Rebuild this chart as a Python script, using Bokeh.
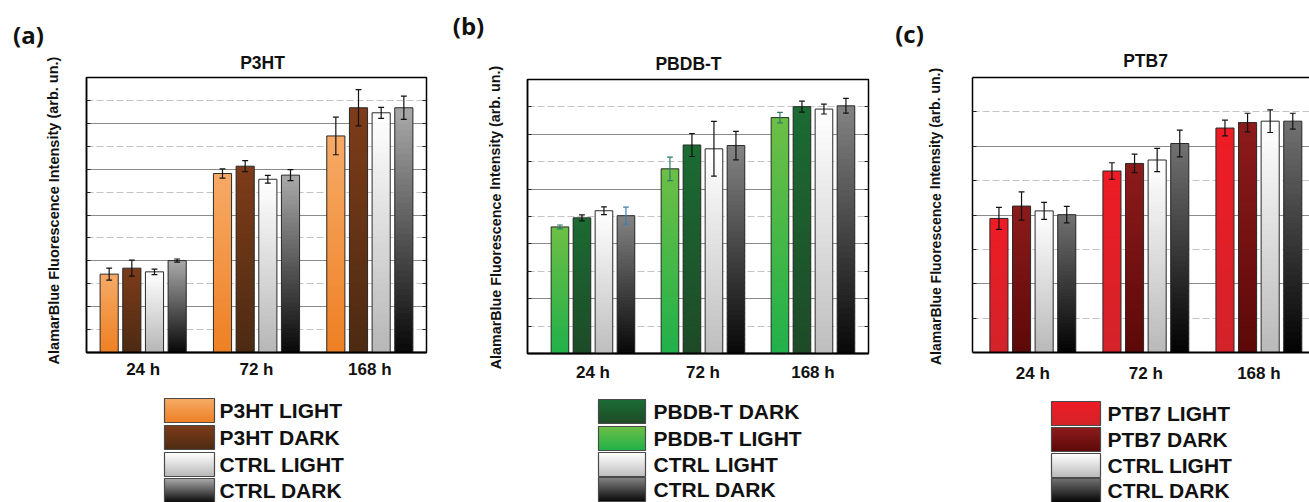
import numpy as np
from bokeh.plotting import figure
from bokeh.models import Range1d, FixedTicker, LinearAxis, Grid, ColumnDataSource
from bokeh.layouts import row, column
from bokeh.embed import file_html
from bokeh.resources import INLINE
from bokeh.core.properties import value

# ---------------- data ----------------
times = ["24 h", "72 h", "168 h"]
y_label = "AlamarBlue Fluorescence Intensity (arb. un.)"

p3ht_series = ["P3HT LIGHT", "P3HT DARK", "CTRL LIGHT", "CTRL DARK"]
p3ht_values = [[3.42, 7.81, 9.45], [3.68, 8.13, 10.68], [3.52, 7.56, 10.46], [4.01, 7.74, 10.68]]
p3ht_errors = [[0.26, 0.20, 0.82], [0.35, 0.24, 0.79], [0.12, 0.17, 0.24], [0.07, 0.24, 0.51]]
p3ht_legend = ["P3HT LIGHT", "P3HT DARK", "CTRL LIGHT", "CTRL DARK"]

pbdb_series = ["PBDB-T LIGHT", "PBDB-T DARK", "CTRL LIGHT", "CTRL DARK"]
pbdb_values = [[4.62, 6.74, 8.61], [4.95, 7.61, 9.01], [5.21, 7.47, 8.92], [5.03, 7.59, 9.04]]
pbdb_errors = [[0.07, 0.43, 0.19], [0.11, 0.42, 0.20], [0.14, 1.00, 0.18], [0.31, 0.52, 0.27]]
pbdb_legend = ["PBDB-T DARK", "PBDB-T LIGHT", "CTRL LIGHT", "CTRL DARK"]

ptb7_series = ["PTB7 LIGHT", "PTB7 DARK", "CTRL LIGHT", "CTRL DARK"]
ptb7_values = [[3.90, 5.28, 6.53], [4.26, 5.50, 6.69], [4.12, 5.60, 6.73], [4.01, 6.08, 6.73]]
ptb7_errors = [[0.32, 0.24, 0.23], [0.41, 0.27, 0.27], [0.25, 0.34, 0.33], [0.24, 0.39, 0.23]]
ptb7_legend = ["PTB7 LIGHT", "PTB7 DARK", "CTRL LIGHT", "CTRL DARK"]

# ---------------- styles ----------------
FONT = "Liberation Sans"
OFFSETS = [-0.3, -0.1, 0.1, 0.3]
BW = 0.16
NSEG = 40
CAP = 0.026
STRIP = 76
HEAD = 72
TOTAL_H = 390
LEG_H = 112

colors_a = {"P3HT LIGHT": ("#f6aa66", "#ee7f22"), "P3HT DARK": ("#7d3c19", "#4b2a12"),
            "CTRL LIGHT": ("#ffffff", "#b5b5b5"), "CTRL DARK": ("#a8a8a8", "#050505")}
colors_b = {"PBDB-T LIGHT": ("#6cbf45", "#1fb04a"), "PBDB-T DARK": ("#1b6b33", "#1d4a27"),
            "CTRL LIGHT": ("#ffffff", "#bdbdbd"), "CTRL DARK": ("#828282", "#050505")}
colors_c = {"PTB7 LIGHT": ("#ee1c25", "#d2232a"), "PTB7 DARK": ("#8c1b1b", "#5c0808"),
            "CTRL LIGHT": ("#ffffff", "#b8b8b8"), "CTRL DARK": ("#707070", "#000000")}


def hex2rgb(h):
    h = h.lstrip("#")
    return tuple(int(h[i:i + 2], 16) for i in (0, 2, 4))


def mix(c_bot, c_top, t):
    a = hex2rgb(c_bot)
    b = hex2rgb(c_top)
    return "#%02x%02x%02x" % tuple(int(round(a[i] + (b[i] - a[i]) * t)) for i in range(3))


def blank_fig(w, h, flip=True):
    q = figure(width=w, height=h, x_range=Range1d(0, w), y_range=Range1d(h, 0) if flip else Range1d(0, h),
               output_backend="svg", toolbar_location=None, title=None, min_border=0,
               x_axis_type=None, y_axis_type=None, frame_align=False,
               background_fill_color="white", border_fill_color="white")
    q.outline_line_color = None
    q.grid.visible = False
    return q


def make_chart(series, values, errors, colors, g, err_colors=None):
    W = g["W"] - STRIP
    H = TOTAL_H - HEAD
    fl = g["fl"] - STRIP
    fr = g["fr"] - STRIP
    ft = g["ft"] - HEAD
    fb = g["fb"] - HEAD
    p = figure(width=W, height=H, x_range=Range1d(*g["xr"]), y_range=Range1d(0, g["ymax"]),
               output_backend="svg", toolbar_location=None, title=None, frame_align=False,
               min_border_left=fl, min_border_right=W - fr,
               min_border_top=ft, min_border_bottom=H - fb,
               background_fill_color="white", border_fill_color="white")
    all_ticks = list(range(1, g["ymax"]))
    even = [t for t in all_ticks if t % 2 == 0]
    odd = [t for t in all_ticks if t % 2 == 1]

    xa = p.xaxis[0]
    xa.ticker = FixedTicker(ticks=[1, 2, 3])
    xa.major_label_overrides = {1: times[0], 2: times[1], 3: times[2]}
    xa.major_tick_in = 0
    xa.major_tick_out = 0
    xa.minor_tick_line_color = None
    xa.major_label_standoff = g["xstand"]
    xa.major_label_text_font = FONT
    xa.major_label_text_font_style = "bold"
    xa.major_label_text_font_size = "17px"
    xa.major_label_text_color = "#111111"
    xa.axis_line_color = "black"
    xa.axis_line_width = 2

    ya = p.yaxis[0]
    ya.ticker = FixedTicker(ticks=all_ticks)
    ya.major_label_overrides = {t: "" for t in all_ticks}
    ya.major_tick_in = 4
    ya.major_tick_out = 0
    ya.major_tick_line_color = "#222222"
    ya.minor_tick_line_color = None
    ya.major_label_standoff = 0
    ya.axis_line_color = "black"
    ya.axis_line_width = 1.5

    p.xgrid.visible = False
    p.ygrid.ticker = FixedTicker(ticks=even)
    p.ygrid.grid_line_color = "#8a8a8a"
    p.ygrid.grid_line_width = 1
    p.add_layout(Grid(dimension=1, ticker=FixedTicker(ticks=odd), grid_line_color="#c4c4c4",
                      grid_line_dash="7 3", grid_line_width=1))

    if g["right"]:
        ra = LinearAxis(ticker=FixedTicker(ticks=all_ticks), major_label_overrides={t: "" for t in all_ticks},
                        major_tick_in=4, major_tick_out=0, minor_tick_line_color=None,
                        major_label_standoff=0, axis_line_color="black", major_tick_line_color="#222222")
        p.add_layout(ra, "right")
        p.outline_line_color = "black"
        p.outline_line_width = 1.5
    else:
        p.outline_line_color = None
        ta = LinearAxis(ticker=FixedTicker(ticks=[]), major_tick_in=0, major_tick_out=0,
                        minor_tick_line_color=None, major_label_standoff=0,
                        axis_line_color="black", axis_line_width=1.5)
        p.add_layout(ta, "above")

    L, R, B, T, C = [], [], [], [], []
    bx, btop = [], []
    ex, elo, ehi, ecol = [], [], [], []
    for si, s in enumerate(series):
        ctop, cbot = colors[s]
        for gi in range(len(times)):
            v = values[si][gi]
            e = errors[si][gi]
            x = gi + 1 + OFFSETS[si]
            step = v / NSEG
            for k in range(NSEG):
                L.append(x - BW / 2)
                R.append(x + BW / 2)
                B.append(max(0.0, step * k - 0.6 * step))
                T.append(step * (k + 1))
                C.append(mix(cbot, ctop, (k + 0.5) / NSEG))
            bx.append(x)
            btop.append(v)
            ex.append(x)
            elo.append(v - e)
            ehi.append(v + e)
            ecol.append(err_colors[si][gi] if err_colors is not None else "#111111")
    src = ColumnDataSource(dict(l=L, r=R, b=B, t=T, c=C))
    p.quad(left="l", right="r", bottom="b", top="t", fill_color="c", line_color=None, source=src)
    p.vbar(x=bx, top=btop, width=BW, fill_color=None, line_color="#2a2a2a", line_width=1)

    ex = np.array(ex)
    esrc = ColumnDataSource(dict(x=ex, x0=ex - CAP, x1=ex + CAP, lo=elo, hi=ehi, c=ecol))
    p.segment(x0="x", y0="lo", x1="x", y1="hi", line_color="c", line_width=1.2, source=esrc)
    p.segment(x0="x0", y0="hi", x1="x1", y1="hi", line_color="c", line_width=1.2, source=esrc)
    p.segment(x0="x0", y0="lo", x1="x1", y1="lo", line_color="c", line_width=1.2, source=esrc)
    return p


def make_strip(g):
    q = blank_fig(STRIP, TOTAL_H)
    q.text(x=[g["letter_pos"][0]], y=[g["letter_pos"][1]], text=[g["letter"]],
           text_font=value("Open Sans"), text_font_style="bold", text_font_size=value("24px"),
           text_align="center", text_baseline="middle", text_color="#111111")
    q.text(x=[g["ylab_pos"][0]], y=[g["ylab_pos"][1]], text=[y_label], angle=[np.pi / 2],
           text_font=value(FONT), text_font_style="bold", text_font_size=value(g["ylab_size"]),
           text_align="center", text_baseline="middle", text_color="#111111")
    return q


def make_header(g):
    W = g["W"] - STRIP
    q = blank_fig(W, HEAD)
    q.text(x=[g["title_pos"][0] - STRIP], y=[g["title_pos"][1]], text=[g["title"]],
           text_font=value(FONT), text_font_style="bold", text_font_size=value("17.5px"),
           text_align="center", text_baseline="middle", text_color="#111111")
    return q


def make_legend(W, names, colors, lg):
    q = blank_fig(W, LEG_H)
    L, R, B, T, C = [], [], [], [], []
    n = 24
    sl, sr = lg["sx"]
    h = lg["h"]
    for r, name in enumerate(names):
        ctop, cbot = colors[name]
        y0 = lg["rows"][r]
        step = h / n
        for k in range(n):
            L.append(sl)
            R.append(sr)
            T.append(y0 + h - step * (k + 1))
            B.append(min(y0 + h, y0 + h - step * k + 0.6 * step))
            C.append(mix(cbot, ctop, (k + 0.5) / n))
    q.quad(left="l", right="r", bottom="b", top="t", fill_color="c", line_color=None,
           source=ColumnDataSource(dict(l=L, r=R, b=B, t=T, c=C)))
    q.quad(left=[sl] * len(names), right=[sr] * len(names), top=lg["rows"],
           bottom=[y + h for y in lg["rows"]], fill_color=None, line_color="#4a4a4a", line_width=1.2)
    q.text(x=[lg["tx"]] * len(names), y=[y + h / 2 - 0.5 for y in lg["rows"]], text=names,
           text_font=value(FONT), text_font_style="bold", text_font_size=value("21px"),
           text_baseline="middle", text_align="left", text_color="#111111")
    return q


geom_a = dict(W=440, fl=86, fr=426, ft=77, fb=352, xr=(0.5, 3.5), ymax=12, right=True, xstand=7,
              title="P3HT", title_pos=(262, 62), letter="(a)", letter_pos=(28, 34),
              ylab_pos=(53, 210), ylab_size="14.5px")
geom_b = dict(W=440, fl=87, fr=428, ft=79, fb=353, xr=(0.405, 3.505), ymax=10, right=True, xstand=9,
              title="PBDB-T", title_pos=(248, 63), letter="(b)", letter_pos=(28, 25),
              ylab_pos=(55, 217), ylab_size="14.3px")
geom_c = dict(W=429, fl=92, fr=429, ft=77, fb=352, xr=(0.466, 3.448), ymax=8, right=False, xstand=11,
              title="PTB7", title_pos=(265, 60), letter="(c)", letter_pos=(29, 33),
              ylab_pos=(55, 216), ylab_size="14px")

err_b = [["#2d7a6a"] * 3, ["#111111"] * 3, ["#111111"] * 3, ["#3a7fb5", "#111111", "#111111"]]


def make_panel(series, values, errors, colors, g, legend_names, lg, err_colors=None):
    chart = make_chart(series, values, errors, colors, g, err_colors)
    top = row(make_strip(g), column(make_header(g), chart, spacing=0), spacing=0)
    return column(top, make_legend(g["W"], legend_names, colors, lg), spacing=0)


pa = make_panel(p3ht_series, p3ht_values, p3ht_errors, colors_a, geom_a, p3ht_legend,
                dict(sx=(164, 214), h=24, rows=[8, 35, 62, 88], tx=219))
pb = make_panel(pbdb_series, pbdb_values, pbdb_errors, colors_b, geom_b, pbdb_legend,
                dict(sx=(158, 205), h=24, rows=[9, 36, 62, 87], tx=213), err_colors=err_b)
pc = make_panel(ptb7_series, ptb7_values, ptb7_errors, colors_c, geom_c, ptb7_legend,
                dict(sx=(171, 220), h=24, rows=[11, 37, 63, 88], tx=227))

layout = row(pa, pb, pc, spacing=0)

open("out.html", "w").write(file_html(layout, INLINE))
